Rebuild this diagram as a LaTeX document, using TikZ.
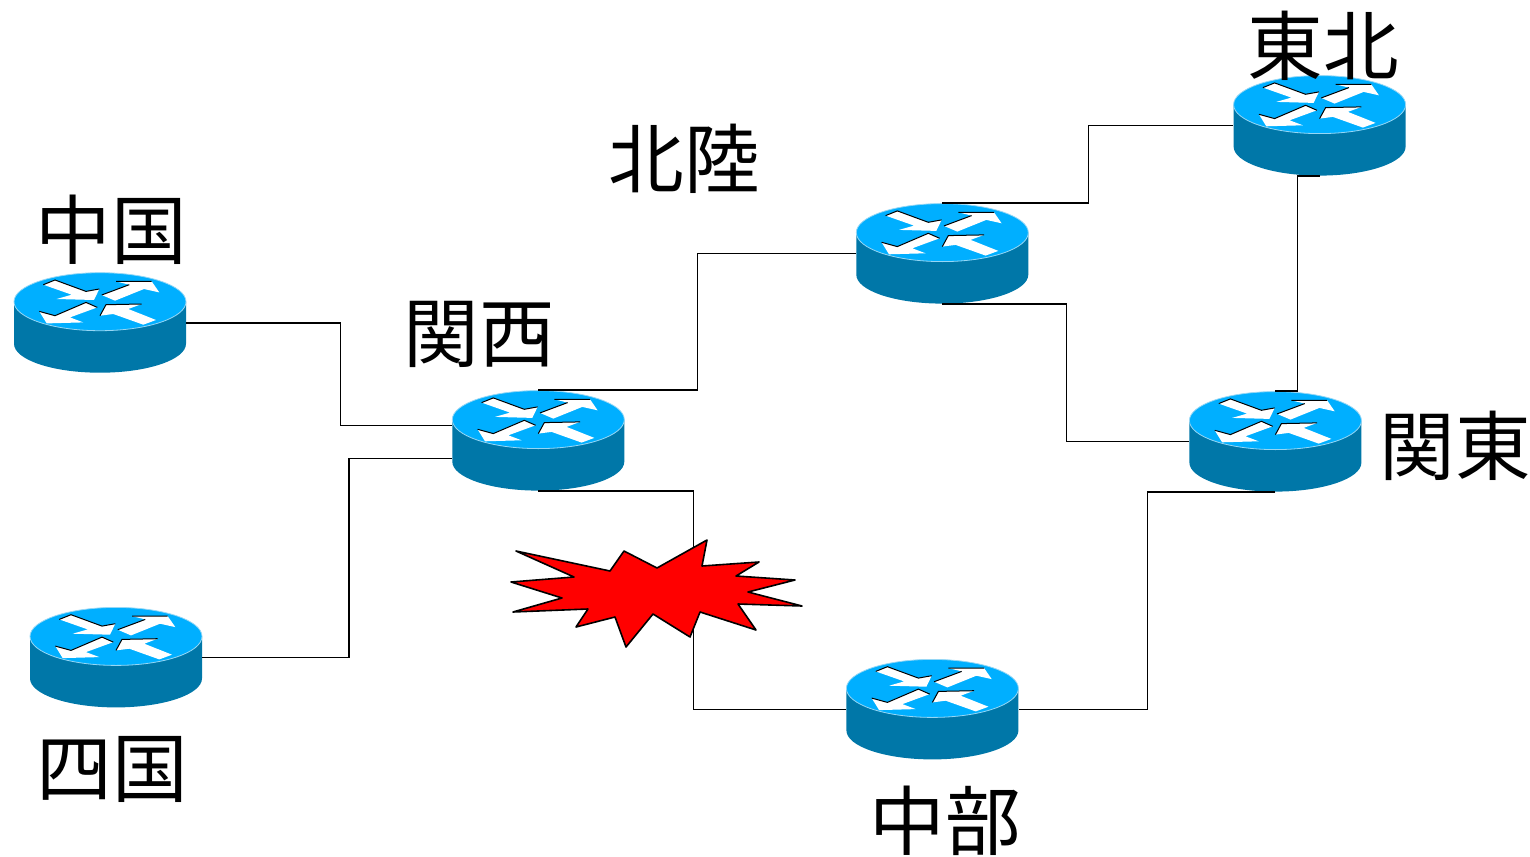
\documentclass[tikz,border=0pt]{standalone}
\usepackage{fontspec}
\usetikzlibrary{calc}
\setmainfont{Noto Sans CJK JP}
\definecolor{routertop}{RGB}{0,175,255}
\definecolor{routerside}{RGB}{0,119,168}
\definecolor{routeredge}{RGB}{150,215,245}
\tikzset{
  x=0.5pt,y=-0.5pt,
  routerbox/.style={rectangle,draw=none,inner sep=0pt,minimum width=86pt,minimum height=50pt},
  label text/.style={inner sep=0pt,font=\fontsize{37.8}{40}\selectfont},
  wire/.style={draw=black,line width=0.8pt},
  arrow fill/.style={fill=white,draw=none},
  arrow edge/.style={draw=black,line width=0.5pt},
  routerglyph/.pic={
    \fill[routerside] (-86,-21) -- (-86,21) arc[start angle=180,end angle=360,x radius=43pt,y radius=14.5pt] -- (86,-21) -- cycle;
    \fill[routertop,draw=routeredge,line width=0.4pt] (0,-21) ellipse[x radius=43pt,y radius=14.5pt];
    \begin{scope}[shift={(0,-21)}]
      \path[arrow fill] (-56.7,-17) -- (-45,-21.7) -- (-14,-10.3) -- (-0.7,-12.7) -- (-6,-1.7) -- (-43.3,-2.7) -- (-28.3,-7) -- cycle;
      \draw[arrow edge] (-56.7,-17) -- (-45,-21.7) -- (-14,-10.3) -- (-0.7,-12.7);
      \path[arrow fill] (1.7,-6.7) -- (29.3,-17) -- (16,-20.3) -- (51.7,-20.3) -- (59.3,-9.3) -- (44,-12.7) -- (15,-1) -- cycle;
      \draw[arrow edge] (1.7,-6.7) -- (29.3,-17) (16,-20.3) -- (51.7,-20.3);
      \path[arrow fill] (-2.7,5.7) -- (-14,0.7) -- (-45,14) -- (-60.7,9.7) -- (-53.3,21.7) -- (-16.7,20.7) -- (-30,15.7) -- cycle;
      \draw[arrow edge] (-2.7,5.7) -- (-14,0.7) -- (-45,14) -- (-60.7,9.7);
      \path[arrow fill] (56,18.3) -- (43.3,23) -- (13.3,12.3) -- (0,14) -- (6,3) -- (41.7,2.3) -- (28.3,7.3) -- cycle;
      \draw[arrow edge] (0,14) -- (6,3) -- (41.7,2.3);
    \end{scope}
  }
}
\begin{document}
\begin{tikzpicture}
\useasboundingbox (0,0) rectangle (1530,856);
% router anchors
\node[routerbox] (chugoku) at (100,322.7) {};
\node[routerbox] (shikoku) at (116,657.4) {};
\node[routerbox] (kansai) at (538.3,440.6) {};
\node[routerbox] (hokuriku) at (942.3,253.6) {};
\node[routerbox] (tohoku) at (1319.6,125.6) {};
\node[routerbox] (kanto) at (1275.4,441.6) {};
\node[routerbox] (chubu) at (932.4,709.4) {};
% routers
\foreach \r in {chugoku,shikoku,kansai,hokuriku,tohoku,kanto,chubu} {
  \pic at (\r) {routerglyph};
}
% connectors
\draw[wire] (chugoku.east) -- ++(154,0) |- ($(kansai.west)+(0,-15)$);
\draw[wire] (shikoku.east) -- ++(146.6,0) |- ($(kansai.west)+(0,18)$);
\draw[wire] (kansai.north) -- ++(159,0) |- (hokuriku.west);
\draw[wire] (kansai.south) -- ++(155,0) |- (chubu.west);
\draw[wire] (hokuriku.north) -- ++(146,0) |- (tohoku.west);
\draw[wire] (hokuriku.south) -- ++(124,0) |- (kanto.west);
\draw[wire] (tohoku.south) -- ++(-22,0) |- (kanto.north);
\draw[wire] (kanto.south) -- ++(-128,0) |- (chubu.east);
% failure burst
\draw[fill=red,draw=black,line width=0.8pt,line join=round]
  (516,551) -- (610,571) -- (624,551) -- (657,568) -- (707,540) -- (702,566)
  -- (759,562) -- (736,576) -- (795,580) -- (748,592) -- (802,606) -- (738,604)
  -- (756,630) -- (700,612) -- (690,637) -- (653,614) -- (626,647) -- (615,617)
  -- (576,627) -- (588,609) -- (513,612) -- (562,598) -- (511,582) -- (574,577) -- cycle;
% labels
\node[label text] (lchugoku) at (111,229.5) {中国};
\node[label text] (lshikoku) at (112,769) {四国};
\node[label text] (lkansai) at (479,334) {関西};
\node[label text] (lhokuriku) at (684,158.5) {北陸};
\node[label text] (ltohoku) at (1323,45.5) {東北};
\node[label text] (lkanto) at (1455,446) {関東};
\node[label text] (lchubu) at (945,821) {中部};
\end{tikzpicture}
\end{document}
